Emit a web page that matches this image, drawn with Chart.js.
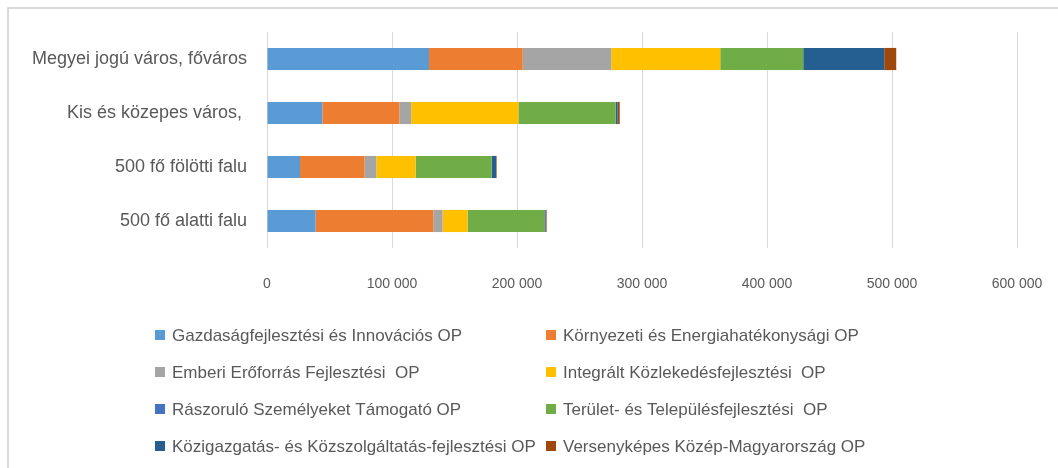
<!DOCTYPE html>
<html>
<head>
<meta charset="utf-8">
<script src="https://cdn.jsdelivr.net/npm/chart.js@4"></script>
<style>
    html, body { margin: 0; padding: 0; background: #fff; }
    #wrap { width: 1058px; height: 468px; position: relative; }
</style>
</head>
<body>
<div id="wrap"><canvas id="chart"></canvas></div>
<script>
var categories = ['Megyei jogú város, főváros', 'Kis és közepes város, ', '500 fő fölötti falu', '500 fő alatti falu'];

var gazdasagi = [129600, 44300, 26400, 38900];
var kornyezeti = [75000, 61600, 51700, 94200];
var emberi = [70800, 9400, 9400, 7400];
var integralt = [87200, 85800, 31400, 20000];
var raszorulo = [0, 0, 0, 0];
var terulet = [66400, 77900, 60800, 61400];
var kozigazgatas = [64800, 1500, 3500, 1000];
var versenykepes = [9600, 1700, 500, 800];

var xTickLabels = ['0', '100 000', '200 000', '300 000', '400 000', '500 000', '600 000'];

var font = "'Liberation Sans', Arial, sans-serif";
var textColor = '#595959';

function series(label, data, color) {
    return { label: label, data: data, backgroundColor: color, borderWidth: 0 };
}

// jelmagyarázat két oszlopban, ahogy az eredetin
var twoColumnLegend = {
    id: 'twoColumnLegend',
    afterDraw: function (chart) {
        var ctx = chart.ctx;
        var cols = [155, 546];
        var rows = [335, 372, 409, 446];
        ctx.save();
        ctx.font = '17px ' + font;
        ctx.textBaseline = 'middle';
        chart.data.datasets.forEach(function (ds, i) {
            var x = cols[i % 2];
            var y = rows[Math.floor(i / 2)];
            ctx.fillStyle = ds.backgroundColor;
            ctx.fillRect(x, y - 5, 10, 10);
            ctx.fillStyle = textColor;
            ctx.fillText(ds.label, x + 17, y + 1);
        });
        ctx.restore();
    }
};

var frame = {
    id: 'frame',
    beforeDraw: function (chart) {
        var ctx = chart.ctx;
        ctx.save();
        ctx.strokeStyle = '#d9d9d9';
        ctx.lineWidth = 2;
        ctx.strokeRect(8, 8, 1200, 600);
        ctx.restore();
    }
};

var ctx = document.getElementById('chart').getContext('2d');
var chart = new Chart(ctx, {
    type: 'bar',
    data: {
        labels: categories,
        datasets: [
            series('Gazdaságfejlesztési és Innovációs OP', gazdasagi, '#5B9BD5'),
            series('Környezeti és Energiahatékonysági OP', kornyezeti, '#ED7D31'),
            series('Emberi Erőforrás Fejlesztési  OP', emberi, '#A5A5A5'),
            series('Integrált Közlekedésfejlesztési  OP', integralt, '#FFC000'),
            series('Rászoruló Személyeket Támogató OP', raszorulo, '#4472C4'),
            series('Terület- és Településfejlesztési  OP', terulet, '#70AD47'),
            series('Közigazgatás- és Közszolgáltatás-fejlesztési OP', kozigazgatas, '#255E91'),
            series('Versenyképes Közép-Magyarország OP', versenykepes, '#9E480E')
        ]
    },
    options: {
        indexAxis: 'y',
        responsive: true,
        maintainAspectRatio: false,
        animation: false,
        layout: { padding: { top: 32, right: 41, bottom: 0, left: 0 } },
        datasets: { bar: { categoryPercentage: 1, barPercentage: 0.41 } },
        scales: {
            x: {
                stacked: true,
                min: 0,
                max: 600000,
                border: { display: false },
                grid: { color: '#d9d9d9', lineWidth: 1, drawTicks: true, tickLength: 28, tickColor: 'rgba(0,0,0,0)' },
                ticks: {
                    stepSize: 100000,
                    padding: 0,
                    color: textColor,
                    font: { family: font, size: 14 },
                    callback: function (value) {
                        return xTickLabels[Math.round(value / 100000)];
                    }
                },
                afterFit: function (scale) { scale.height = 220; }
            },
            y: {
                stacked: true,
                border: { display: false },
                grid: { display: false, drawTicks: false },
                ticks: {
                    padding: 20,
                    color: textColor,
                    font: { family: font, size: 18 }
                },
                afterFit: function (scale) { scale.width = 267; }
            }
        },
        plugins: {
            legend: { display: false },
            tooltip: { enabled: false }
        }
    },
    plugins: [frame, twoColumnLegend]
});
</script>
</body>
</html>
